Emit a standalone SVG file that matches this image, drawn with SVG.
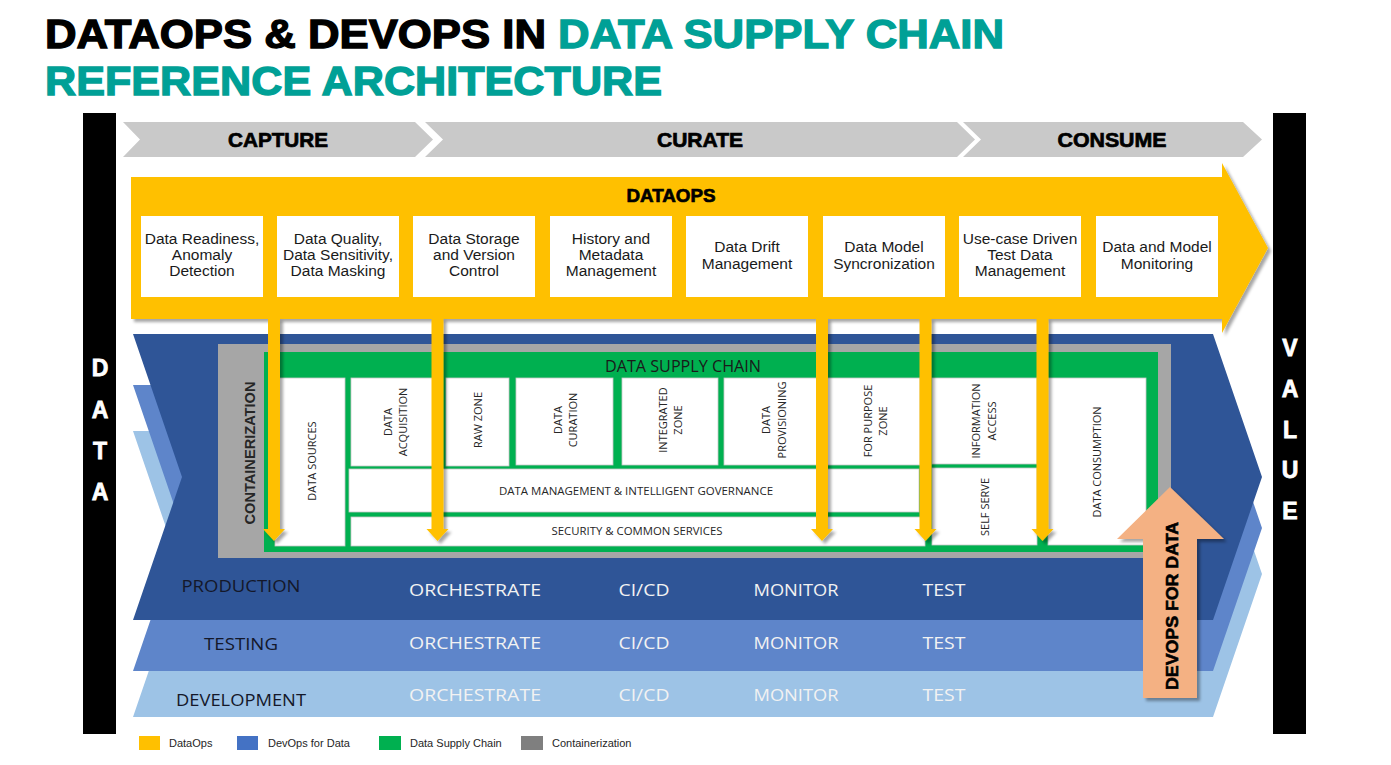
<svg xmlns="http://www.w3.org/2000/svg" width="1391" height="765" viewBox="0 0 1391 765">
  <defs>
    <filter id="shadow" x="-10%" y="-10%" width="130%" height="130%">
      <feDropShadow dx="3" dy="3" stdDeviation="1.8" flood-color="#000" flood-opacity="0.35"/>
    </filter>
    <style>
      .title { font-family: "Liberation Sans", Arial, sans-serif; font-weight: 900; font-size: 40px; stroke-width: 1.3px; }
      .dark { fill: #000; stroke: #000; }
      .teal { fill: #00a096; stroke: #00a096; }
      .bar { fill: #000; }
      .bar-letter { font-family: "Liberation Sans", Arial, sans-serif; font-weight: 700; font-size: 23px; fill: #fff; stroke: #fff; stroke-width: 0.8px; text-anchor: middle; }
      .stage { fill: #c9c9c9; }
      .stage-label { font-family: "Liberation Sans", Arial, sans-serif; font-weight: 900; font-size: 20px; fill: #000; stroke: #000; stroke-width: 0.7px; text-anchor: middle; }
      .dataops { fill: #ffc000; }
      .step { fill: #fff; }
      .step-text { font-family: "Liberation Sans", Arial, sans-serif; font-size: 15.5px; fill: #1a1a1a; text-anchor: middle; }
      .prod { fill: #2f5597; }
      .test { fill: #5e85ca; }
      .dev { fill: #9dc3e6; }
      .container { fill: #a6a6a6; }
      .chain { fill: #00b050; }
      .cell { fill: #fff; stroke: #c8c8c8; stroke-width: 0.8; }
      .cell-text { font-family: "Open Sans", "Liberation Sans", sans-serif; font-size: 11px; fill: #262626; text-anchor: middle; }
      .env-label { font-family: "Open Sans", "Liberation Sans", sans-serif; font-size: 17px; fill: #14182a; text-anchor: middle; }
      .env-step { font-family: "Open Sans", "Liberation Sans", sans-serif; font-size: 17px; fill: #f2f2f2; text-anchor: middle; }
      .flow { fill: #ffc000; }
      .devops { fill: #f4b183; }
      .legend-text { font-family: "Liberation Sans", Arial, sans-serif; font-size: 11px; fill: #262626; }
    </style>
  </defs>

  <rect width="1391" height="765" fill="#fff"/>

  <!-- heading -->
  <g id="title">
    <text class="title" x="45" y="48" textLength="959" lengthAdjust="spacingAndGlyphs"><tspan class="dark">DATAOPS &amp; DEVOPS IN </tspan><tspan class="teal">DATA SUPPLY CHAIN</tspan></text>
    <text class="title teal" x="45" y="95" textLength="617" lengthAdjust="spacingAndGlyphs">REFERENCE ARCHITECTURE</text>
  </g>

  <!-- side bars -->
  <g id="data-bar">
    <rect class="bar" x="83" y="113" width="33" height="621"/>
    <text class="bar-letter" x="100" y="376">D</text>
    <text class="bar-letter" x="100" y="418">A</text>
    <text class="bar-letter" x="100" y="459">T</text>
    <text class="bar-letter" x="100" y="500">A</text>
  </g>
  <g id="value-bar">
    <rect class="bar" x="1273" y="113" width="33" height="621"/>
    <text class="bar-letter" x="1290" y="356">V</text>
    <text class="bar-letter" x="1290" y="397">A</text>
    <text class="bar-letter" x="1290" y="438">L</text>
    <text class="bar-letter" x="1290" y="478">U</text>
    <text class="bar-letter" x="1290" y="519">E</text>
  </g>

  <!-- stage chevrons -->
  <g id="capture">
    <polygon class="stage" points="123,122 415,122 433,139.5 415,157 123,157 140,139.5"/>
    <text class="stage-label" x="278" y="147" textLength="100" lengthAdjust="spacingAndGlyphs">CAPTURE</text>
  </g>
  <g id="curate">
    <polygon class="stage" points="425,122 957,122 975,139.5 957,157 425,157 443,139.5"/>
    <text class="stage-label" x="700" y="147" textLength="86" lengthAdjust="spacingAndGlyphs">CURATE</text>
  </g>
  <g id="consume">
    <polygon class="stage" points="963,122 1243,122 1262,139.5 1243,157 963,157 981,139.5"/>
    <text class="stage-label" x="1112" y="147" textLength="109" lengthAdjust="spacingAndGlyphs">CONSUME</text>
  </g>

  <!-- environment layers -->
  <g id="development">
    <polygon class="dev" points="133,431 1213,431 1262,574 1213,717 133,717 182,574"/>
    <text class="env-label" x="241" y="706" textLength="130" lengthAdjust="spacingAndGlyphs">DEVELOPMENT</text>
    <text class="env-step" x="475" y="701" textLength="132" lengthAdjust="spacingAndGlyphs">ORCHESTRATE</text>
    <text class="env-step" x="644" y="701" textLength="51" lengthAdjust="spacingAndGlyphs">CI/CD</text>
    <text class="env-step" x="796" y="701" textLength="85" lengthAdjust="spacingAndGlyphs">MONITOR</text>
    <text class="env-step" x="944" y="701" textLength="43" lengthAdjust="spacingAndGlyphs">TEST</text>
  </g>
  <g id="testing">
    <polygon class="test" points="133,385 1213,385 1262,528 1213,671 133,671 182,528"/>
    <text class="env-label" x="241" y="650" textLength="74" lengthAdjust="spacingAndGlyphs">TESTING</text>
    <text class="env-step" x="475" y="649" textLength="132" lengthAdjust="spacingAndGlyphs">ORCHESTRATE</text>
    <text class="env-step" x="644" y="649" textLength="51" lengthAdjust="spacingAndGlyphs">CI/CD</text>
    <text class="env-step" x="796" y="649" textLength="85" lengthAdjust="spacingAndGlyphs">MONITOR</text>
    <text class="env-step" x="944" y="649" textLength="43" lengthAdjust="spacingAndGlyphs">TEST</text>
  </g>
  <g id="production">
    <polygon class="prod" points="133,334 1213,334 1262,477 1213,620 133,620 182,477"/>
    <text class="env-label" x="241" y="592" textLength="119" lengthAdjust="spacingAndGlyphs">PRODUCTION</text>
    <text class="env-step" x="475" y="596" textLength="132" lengthAdjust="spacingAndGlyphs">ORCHESTRATE</text>
    <text class="env-step" x="644" y="596" textLength="51" lengthAdjust="spacingAndGlyphs">CI/CD</text>
    <text class="env-step" x="796" y="596" textLength="85" lengthAdjust="spacingAndGlyphs">MONITOR</text>
    <text class="env-step" x="944" y="596" textLength="43" lengthAdjust="spacingAndGlyphs">TEST</text>
  </g>

  <!-- containerization frame -->
  <g id="containerization">
    <rect class="container" x="218" y="344" width="953" height="214"/>
    <text transform="translate(255,453) rotate(-90)" font-family="Liberation Sans, Arial, sans-serif" font-weight="700" font-size="14" fill="#262626" text-anchor="middle" textLength="143" lengthAdjust="spacingAndGlyphs">CONTAINERIZATION</text>
  </g>

  <!-- data supply chain -->
  <g id="data-supply-chain">
    <rect class="chain" x="264" y="352" width="894" height="200"/>
    <text x="683" y="372" font-family="Open Sans, Liberation Sans, sans-serif" font-size="16" fill="#1a1a1a" text-anchor="middle" textLength="156" lengthAdjust="spacingAndGlyphs">DATA SUPPLY CHAIN</text>
  </g>
  <g id="data-sources">
    <rect class="cell" x="275" y="378" width="70" height="168"/>
    <text class="cell-text" transform="translate(316,461) rotate(-90)">DATA SOURCES</text>
  </g>
  <g id="data-acquisition">
    <rect class="cell" x="351" y="378" width="82" height="88"/>
    <text class="cell-text" transform="translate(392,422) rotate(-90)"><tspan x="0" y="0">DATA</tspan><tspan x="0" y="15">ACQUISITION</tspan></text>
  </g>
  <g id="raw-zone">
    <rect class="cell" x="446" y="378" width="63" height="88"/>
    <text class="cell-text" transform="translate(482,420) rotate(-90)">RAW ZONE</text>
  </g>
  <g id="data-curation">
    <rect class="cell" x="516" y="378" width="97" height="87"/>
    <text class="cell-text" transform="translate(562,420) rotate(-90)"><tspan x="0" y="0">DATA</tspan><tspan x="0" y="15">CURATION</tspan></text>
  </g>
  <g id="integrated-zone">
    <rect class="cell" x="622" y="378" width="96" height="87"/>
    <text class="cell-text" transform="translate(667,420) rotate(-90)"><tspan x="0" y="0">INTEGRATED</tspan><tspan x="0" y="15">ZONE</tspan></text>
  </g>
  <g id="data-provisioning">
    <rect class="cell" x="724" y="378" width="95" height="87"/>
    <text class="cell-text" transform="translate(770,420) rotate(-90)"><tspan x="0" y="0">DATA</tspan><tspan x="0" y="16">PROVISIONING</tspan></text>
  </g>
  <g id="for-purpose-zone">
    <rect class="cell" x="826" y="378" width="94" height="87"/>
    <text class="cell-text" transform="translate(872,421) rotate(-90)"><tspan x="0" y="0">FOR PURPOSE</tspan><tspan x="0" y="15">ZONE</tspan></text>
  </g>
  <g id="data-management">
    <rect class="cell" x="349" y="469" width="570" height="43"/>
    <text class="cell-text" x="636" y="495" textLength="274" lengthAdjust="spacingAndGlyphs">DATA MANAGEMENT &amp; INTELLIGENT GOVERNANCE</text>
  </g>
  <g id="security">
    <rect class="cell" x="351" y="517" width="574" height="29"/>
    <text class="cell-text" x="637" y="535" textLength="171" lengthAdjust="spacingAndGlyphs">SECURITY &amp; COMMON SERVICES</text>
  </g>
  <g id="information-access">
    <rect class="cell" x="932" y="378" width="105" height="86"/>
    <text class="cell-text" transform="translate(980,421) rotate(-90)"><tspan x="0" y="0">INFORMATION</tspan><tspan x="0" y="16">ACCESS</tspan></text>
  </g>
  <g id="self-serve">
    <rect class="cell" x="932" y="468" width="105" height="77"/>
    <text class="cell-text" transform="translate(989,507) rotate(-90)">SELF SERVE</text>
  </g>
  <g id="data-consumption">
    <rect class="cell" x="1048" y="378" width="98" height="167"/>
    <text class="cell-text" transform="translate(1101,462) rotate(-90)">DATA CONSUMPTION</text>
  </g>

  <!-- DataOps band -->
  <g id="dataops">
    <polygon class="dataops" filter="url(#shadow)" points="131,177 1222,177 1222,163 1268,248 1222,333 1222,319 131,319"/>
    <text x="671" y="202" font-family="Liberation Sans, Arial, sans-serif" font-weight="900" font-size="19" fill="#000" stroke="#000" stroke-width="0.7" text-anchor="middle" textLength="89" lengthAdjust="spacingAndGlyphs">DATAOPS</text>
  </g>
  <g id="data-readiness">
    <rect class="step" x="141" y="216" width="122" height="81"/>
    <text class="step-text"><tspan x="202" y="244">Data Readiness,</tspan><tspan x="202" y="260">Anomaly</tspan><tspan x="202" y="276">Detection</tspan></text>
  </g>
  <g id="data-quality">
    <rect class="step" x="277" y="216" width="122" height="81"/>
    <text class="step-text"><tspan x="338" y="244">Data Quality,</tspan><tspan x="338" y="260">Data Sensitivity,</tspan><tspan x="338" y="276">Data Masking</tspan></text>
  </g>
  <g id="data-storage">
    <rect class="step" x="413" y="216" width="122" height="81"/>
    <text class="step-text"><tspan x="474" y="244">Data Storage</tspan><tspan x="474" y="260">and Version</tspan><tspan x="474" y="276">Control</tspan></text>
  </g>
  <g id="history-metadata">
    <rect class="step" x="550" y="216" width="122" height="81"/>
    <text class="step-text"><tspan x="611" y="244">History and</tspan><tspan x="611" y="260">Metadata</tspan><tspan x="611" y="276">Management</tspan></text>
  </g>
  <g id="data-drift">
    <rect class="step" x="686" y="216" width="122" height="81"/>
    <text class="step-text"><tspan x="747" y="252">Data Drift</tspan><tspan x="747" y="269">Management</tspan></text>
  </g>
  <g id="model-sync">
    <rect class="step" x="823" y="216" width="122" height="81"/>
    <text class="step-text"><tspan x="884" y="252">Data Model</tspan><tspan x="884" y="269">Syncronization</tspan></text>
  </g>
  <g id="test-data">
    <rect class="step" x="959" y="216" width="122" height="81"/>
    <text class="step-text"><tspan x="1020" y="244">Use-case Driven</tspan><tspan x="1020" y="260">Test Data</tspan><tspan x="1020" y="276">Management</tspan></text>
  </g>
  <g id="monitoring">
    <rect class="step" x="1096" y="216" width="122" height="81"/>
    <text class="step-text"><tspan x="1157" y="252">Data and Model</tspan><tspan x="1157" y="269">Monitoring</tspan></text>
  </g>

  <!-- DataOps flows into the supply chain -->
  <g id="connectors" filter="url(#shadow)">
    <path class="flow" d="M268,318 H280 V529 H285 L274,541 L263,529 H268 Z"/>
    <path class="flow" d="M431.5,318 H443.5 V529 H448.5 L437.5,541 L426.5,529 H431.5 Z"/>
    <path class="flow" d="M816,318 H828 V529 H833 L822,541 L811,529 H816 Z"/>
    <path class="flow" d="M919.5,318 H931.5 V529 H936.5 L925.5,541 L914.5,529 H919.5 Z"/>
    <path class="flow" d="M1036.5,318 H1048.5 V529 H1053.5 L1042.5,541 L1031.5,529 H1036.5 Z"/>
  </g>

  <!-- DevOps for Data arrow -->
  <g id="devops-for-data">
    <polygon class="devops" filter="url(#shadow)" points="1143,698 1197,698 1197,539 1224,539 1170,487 1117,539 1143,539"/>
    <text transform="translate(1178,606) rotate(-90)" font-family="Liberation Sans, Arial, sans-serif" font-weight="900" font-size="17" fill="#000" stroke="#000" stroke-width="0.6" text-anchor="middle" textLength="168" lengthAdjust="spacingAndGlyphs">DEVOPS FOR DATA</text>
  </g>

  <!-- legend -->
  <g id="legend">
    <rect x="139" y="736" width="21" height="14" fill="#ffc000"/>
    <text class="legend-text" x="169" y="747">DataOps</text>
    <rect x="237" y="736" width="21" height="14" fill="#4472c4"/>
    <text class="legend-text" x="268" y="747">DevOps for Data</text>
    <rect x="379" y="736" width="22" height="14" fill="#00b050"/>
    <text class="legend-text" x="410" y="747">Data Supply Chain</text>
    <rect x="521" y="736" width="22" height="14" fill="#7f7f7f"/>
    <text class="legend-text" x="552" y="747">Containerization</text>
  </g>
</svg>
